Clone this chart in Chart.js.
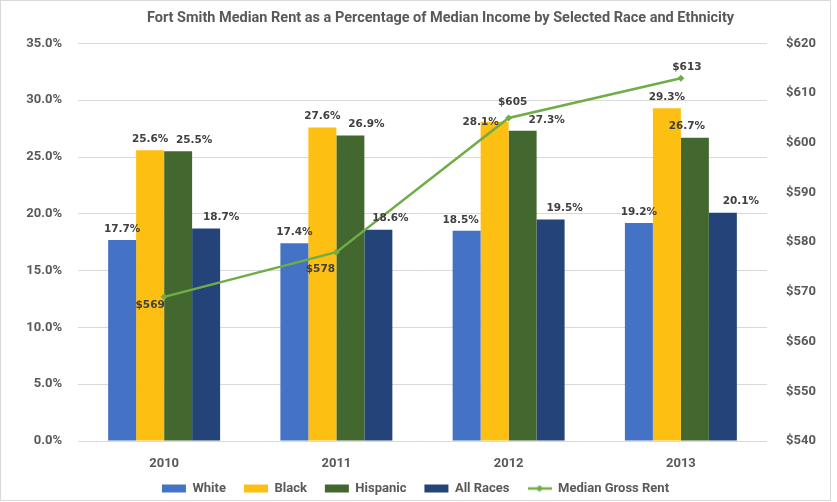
<!DOCTYPE html>
<html>
<head>
<meta charset="utf-8">
<script src="https://cdn.jsdelivr.net/npm/chart.js@4.4.0/dist/chart.umd.min.js"></script>
<style>
  html, body { margin:0; padding:0; background:#fff; }
  #wrap { position:absolute; left:0; top:0; width:831px; height:501px; border:1px solid #d9d9d9; box-sizing:border-box; }
</style>
</head>
<body>
<div id="wrap"><canvas id="c"></canvas></div>
<script>
// data
const years    = ["2010", "2011", "2012", "2013"];
const white    = [17.7, 17.4, 18.5, 19.2];
const black    = [25.6, 27.6, 28.1, 29.3];
const hispanic = [25.5, 26.9, 27.3, 26.7];
const allRaces = [18.7, 18.6, 19.5, 20.1];
const rent     = [569, 578, 605, 613];

const pctTicks  = { min: 0, max: 35, step: 5 };
const rentTicks = { min: 540, max: 620, step: 10 };

const GRAY = "#595959";
const LABEL = "#404040";
const GREEN = "#70AD47";
const FONT = "Roboto, 'Liberation Sans', sans-serif";

// little legend swatch for the line series: a line with a diamond
function lineSwatch(){
  const cv = document.createElement("canvas");
  cv.width = 24; cv.height = 8;
  const g = cv.getContext("2d");
  g.strokeStyle = GREEN; g.lineWidth = 2.5;
  g.beginPath(); g.moveTo(0,4); g.lineTo(24,4); g.stroke();
  g.fillStyle = GREEN;
  g.beginPath(); g.moveTo(12,0.5); g.lineTo(15.5,4); g.lineTo(12,7.5); g.lineTo(8.5,4); g.closePath(); g.fill();
  return cv;
}

// draws value labels next to bars and points (no datalabels plugin offline)
const valueLabels = {
  id: "valueLabels",
  afterDatasetsDraw(chart, args, opts){
    const ctx = chart.ctx;
    ctx.save();
    ctx.font = "bold 10.5px 'DejaVu Sans', sans-serif";
    ctx.fillStyle = LABEL;
    ctx.textAlign = "center";
    ctx.textBaseline = "middle";
    chart.data.datasets.forEach((ds, di) => {
      const meta = chart.getDatasetMeta(di);
      if (meta.hidden) return;
      const offs = opts.offsets[di] || [];
      meta.data.forEach((el, i) => {
        const o = offs[i] || [0, 0];
        const txt = ds.type === "line" ? "$" + ds.data[i] : ds.data[i].toFixed(1) + "%";
        const baseDy = ds.type === "line" ? 0 : -11;
        ctx.fillText(txt, el.x + o[0], el.y + baseDy + o[1]);
      });
    });
    ctx.restore();
  }
};

const chart = new Chart(document.getElementById("c"), {
  type: "bar",
  data: {
    labels: years,
    datasets: [
      { label: "White",    data: white,    backgroundColor: "#4472C4", order: 1 },
      { label: "Black",    data: black,    backgroundColor: "#FDBF11", order: 1 },
      { label: "Hispanic", data: hispanic, backgroundColor: "#43682F", order: 1 },
      { label: "All Races",data: allRaces, backgroundColor: "#244479", order: 1 },
      { type: "line", label: "Median Gross Rent", data: rent, yAxisID: "y2", order: 0,
        borderColor: GREEN, backgroundColor: GREEN, borderWidth: 2.5,
        pointStyle: "rectRot", pointRadius: 3.5, pointBackgroundColor: GREEN, pointBorderWidth: 0,
        tension: 0 }
    ]
  },
  options: {
    responsive: true,
    maintainAspectRatio: false,
    animation: false,
    layout: { padding: 0 },
    datasets: { bar: { categoryPercentage: 0.65, barPercentage: 1 } },
    scales: {
      x: {
        grid: { display: false },
        border: { display: false },
        ticks: { color: GRAY, font: { family: FONT, size: 13, weight: "bold" }, padding: 7 },
        afterFit(s){ s.height = 28; }
      },
      y: {
        min: pctTicks.min, max: pctTicks.max,
        grid: { color: "#D9D9D9", drawTicks: false },
        border: { display: false },
        ticks: { stepSize: pctTicks.step, color: GRAY, padding: 16,
                 font: { family: FONT, size: 13, weight: "bold" },
                 callback: v => v.toFixed(1) + "%" },
        afterFit(s){ s.width = 77; }
      },
      y2: {
        position: "right",
        min: rentTicks.min, max: rentTicks.max,
        grid: { drawOnChartArea: false, drawTicks: false },
        border: { display: false },
        ticks: { stepSize: rentTicks.step, color: GRAY, padding: 19,
                 font: { family: FONT, size: 13, weight: "bold" },
                 callback: v => "$" + v },
        afterFit(s){ s.width = 63; }
      }
    },
    plugins: {
      title: {
        display: true,
        text: "Fort Smith Median Rent as a Percentage of Median Income by Selected Race and Ethnicity",
        color: GRAY,
        font: { family: FONT, size: 14.5, weight: "bold" },
        padding: { top: 9, bottom: 16 }
      },
      legend: {
        position: "bottom",
        labels: {
          color: GRAY,
          font: { family: FONT, size: 13, weight: "bold" },
          boxWidth: 24, boxHeight: 8,
          usePointStyle: true, pointStyleWidth: 24,
          padding: 18,
          sort: (a, b) => a.datasetIndex - b.datasetIndex,
          generateLabels(ch){
            const items = Chart.defaults.plugins.legend.labels.generateLabels(ch);
            items.forEach(it => {
              const ds = ch.data.datasets[it.datasetIndex];
              it.pointStyle = ds.type === "line" ? lineSwatch() : "rect";
              it.lineWidth = 0;
            });
            return items;
          }
        }
      },
      tooltip: { enabled: false },
      valueLabels: {
        offsets: [
          [[0,0],[0,0],[-6,0],[0,0]],
          [[0,0],[0,0],[-14,11],[0,0]],
          [[16,0],[16,0],[24,0],[-8,0]],
          [[15,0],[12,0],[14,0],[18,0]],
          [[-14,8],[-16,17],[4,-16],[6,-11]]
        ]
      }
    }
  },
  plugins: [valueLabels]
});

// wide gaps between legend items but a short legend box, drawn a bit higher
const legendFit = chart.legend.fit;
chart.legend.fit = function(){ legendFit.call(this); this.height = 31; };
const legendDraw = chart.legend.draw;
chart.legend.draw = function(){
  this.ctx.save(); this.ctx.translate(0, -5); legendDraw.call(this); this.ctx.restore();
};
// the title sits a little right of centre in the reference
const titleDraw = chart.titleBlock.draw;
chart.titleBlock.draw = function(){
  this.ctx.save(); this.ctx.translate(25, 0); titleDraw.call(this); this.ctx.restore();
};
chart.update();
</script>
</body>
</html>
